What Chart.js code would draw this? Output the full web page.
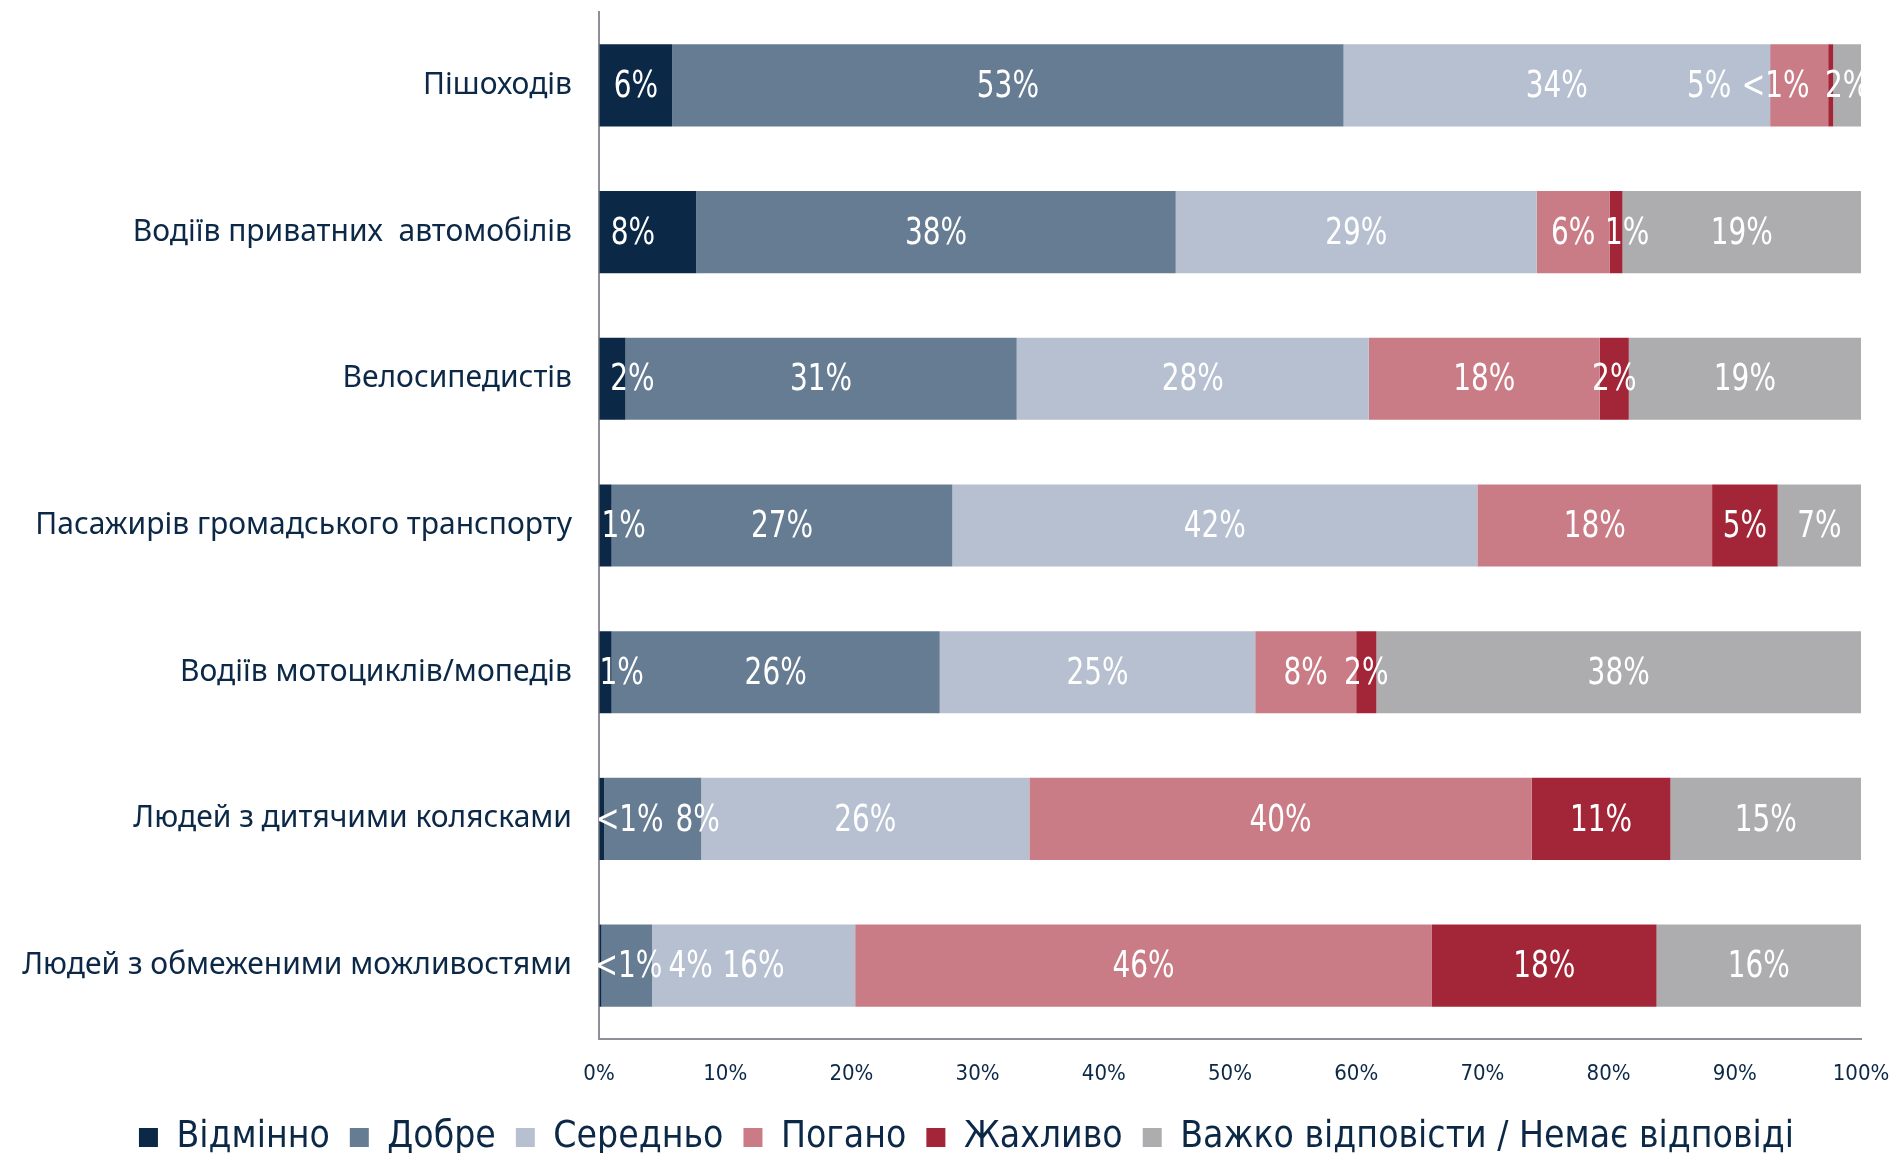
<!DOCTYPE html>
<html>
<head>
<meta charset="utf-8">
<script src="https://cdn.jsdelivr.net/npm/chart.js@4.4.1/dist/chart.umd.min.js"></script>
<style>
  html, body { margin: 0; padding: 0; background: #fff; }
  #wrap { width: 1897px; height: 1153px; position: relative; }
</style>
</head>
<body>
<div id="wrap"><canvas id="myChart"></canvas></div>
<script>
const categories = [
  "Пішоходів",
  "Водіїв приватних  автомобілів",
  "Велосипедистів",
  "Пасажирів громадського транспорту",
  "Водіїв мотоциклів/мопедів",
  "Людей з дитячими колясками",
  "Людей з обмеженими можливостями"
];
const seriesNames = ["Відмінно", "Добре", "Середньо", "Погано", "Жахливо", "Важко відповісти / Немає відповіді"];

const excellent = [5.8, 7.7, 2.1, 1.0, 1.0, 0.4, 0.2];
const good      = [53.2, 38.0, 31.0, 27.0, 26.0, 7.7, 4.0];
const average   = [33.8, 28.6, 27.9, 41.6, 25.0, 26.0, 16.1];
const bad       = [4.6, 5.8, 18.3, 18.6, 8.0, 39.8, 45.7];
const terrible  = [0.4, 1.0, 2.3, 5.2, 1.6, 11.0, 17.8];
const noAnswer  = [2.2, 18.9, 18.4, 6.6, 38.4, 15.1, 16.2];

const excellentLabels = ["6%", "8%", "2%", "1%", "1%", "<1%", "<1%"];
const goodLabels      = ["53%", "38%", "31%", "27%", "26%", "8%", "4%"];
const averageLabels   = ["34%", "29%", "28%", "42%", "25%", "26%", "16%"];
const badLabels       = ["5%", "6%", "18%", "18%", "8%", "40%", "46%"];
const terribleLabels  = ["<1%", "1%", "2%", "5%", "2%", "11%", "18%"];
const noAnswerLabels  = ["2%", "19%", "19%", "7%", "38%", "15%", "16%"];

const xTicks = ["0%", "10%", "20%", "30%", "40%", "50%", "60%", "70%", "80%", "90%", "100%"];

const colors = ["#0B2847", "#667C92", "#B6C0D0", "#C97B86", "#A32538", "#ADADAF"];

// label nudges (px) where the text would not fit in a narrow segment
const labelShift = {
  "0,1": -15, "0,2": 20, "0,3": 18, "0,4": 16, "0,5": 28, "0,6": 28,
  "1,5": 45, "1,6": 64,
  "3,0": -90, "4,0": -55, "4,1": 11
};

const narrow = "'Liberation Sans Narrow', 'DejaVu Sans Condensed', sans-serif";
const allValues = [excellent, good, average, bad, terrible, noAnswer];
const allLabels = [excellentLabels, goodLabels, averageLabels, badLabels, terribleLabels, noAnswerLabels];

const datasets = seriesNames.map((name, i) => ({
  label: name,
  data: allValues[i],
  backgroundColor: colors[i],
  borderWidth: 0,
  barPercentage: 0.56,
  categoryPercentage: 1.0,
  valueLabels: allLabels[i]
}));

const segmentLabels = {
  id: "segmentLabels",
  afterLayout(chart) {
    // legend sits a little right of centre in the original
    chart.legend.left += 36;
    chart.legend.right += 36;
  },
  afterDatasetsDraw(chart) {
    const ctx = chart.ctx;
    chart.data.datasets.forEach((ds, i) => {
      const meta = chart.getDatasetMeta(i);
      meta.data.forEach((bar, j) => {
        const shift = labelShift[i + "," + j] || 0;
        const cx = (bar.x + bar.base) / 2 + shift;
        ctx.save();
        ctx.translate(cx, bar.y + 2);
        ctx.scale(0.84, 1);
        ctx.font = "37px " + narrow;
        ctx.fillStyle = "#ffffff";
        ctx.textAlign = "center";
        ctx.textBaseline = "middle";
        ctx.fillText(ds.valueLabels[j], 0, 0);
        ctx.restore();
      });
    });
  }
};

const myChart = document.getElementById("myChart");
new Chart(myChart, {
  type: "bar",
  data: { labels: categories, datasets },
  plugins: [segmentLabels],
  options: {
    indexAxis: "y",
    responsive: true,
    maintainAspectRatio: false,
    animation: false,
    layout: { padding: { top: 12, right: 36, left: 0, bottom: -13 } },
    plugins: {
      legend: {
        position: "bottom",
        labels: {
          boxWidth: 19,
          boxHeight: 19,
          padding: 20,
          color: "#0B2847",
          font: { family: narrow, size: 37 }
        }
      },
      tooltip: { enabled: false }
    },
    scales: {
      x: {
        stacked: true,
        min: 0,
        max: 100,
        grid: { display: true, drawOnChartArea: false, drawTicks: true, tickLength: 20, tickColor: "rgba(0,0,0,0)" },
        border: { display: true, color: "#8E8F99", width: 2 },
        ticks: {
          stepSize: 10,
          padding: 2,
          color: "#0B2847",
          font: { family: narrow, size: 22 },
          callback: (v, idx) => xTicks[idx]
        },
        afterFit: (scale) => { scale.height = 60; }
      },
      y: {
        stacked: true,
        grid: { display: true, drawOnChartArea: false, drawTicks: true, tickLength: 27, tickColor: "rgba(0,0,0,0)" },
        border: { display: true, color: "#8E8F99", width: 2 },
        ticks: {
          padding: 0,
          color: "#0B2847",
          font: { family: "'Noto Sans', sans-serif", size: 30, lineHeight: 0.8 }
        },
        afterFit: (scale) => { scale.width = 599; }
      }
    }
  }
});
</script>
</body>
</html>
